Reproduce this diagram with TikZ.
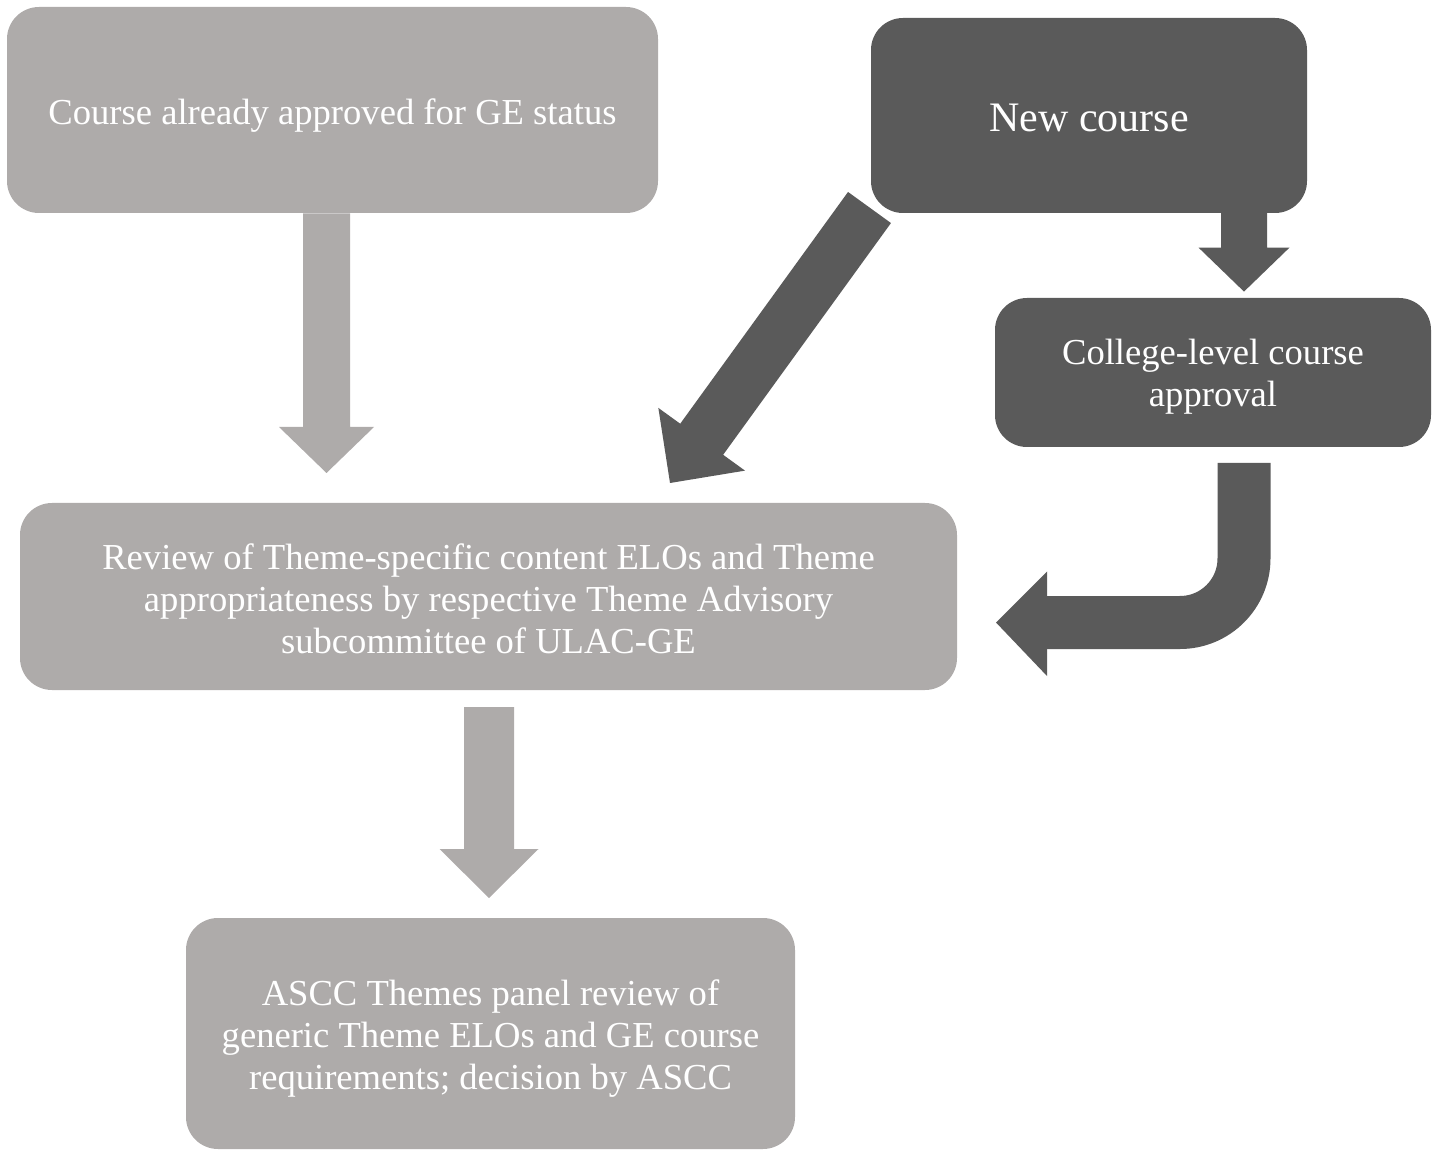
\documentclass[tikz,border=0pt]{standalone}
\usepackage{fontspec}
\setmainfont{Liberation Serif}
\usetikzlibrary{calc}
\definecolor{lightg}{HTML}{AEABAA}
\definecolor{darkg}{HTML}{5A5A5A}
% block arrow: color, start, end, shaft half width, head half width, head length
\newcommand\blockarr[6]{%
  \coordinate (ba-b) at ($(#3)!#6!(#2)$);
  \fill[#1] ($(#2)!#4!90:(#3)$) -- ($(ba-b)!#4!-90:(#2)$) -- ($(ba-b)!#5!-90:(#2)$)
    -- (#3) -- ($(ba-b)!#5!90:(#2)$) -- ($(ba-b)!#4!90:(#2)$) -- ($(#2)!#4!-90:(#3)$) -- cycle;
}
\begin{document}
\begin{tikzpicture}[x=0.5pt,y=-0.5pt,
  box/.style={rounded corners=16pt, inner sep=0pt},
  lbox/.style={box, fill=lightg},
  dbox/.style={box, fill=darkg},
  txt/.style={inner sep=0pt, align=center, text=white,
    font=\fontsize{18.3}{21}\selectfont}]
\useasboundingbox (0,0) rectangle (1437,1150);

\node[lbox, minimum width=325.5pt, minimum height=103pt] (b1) at (332.5,110) {};
\node[txt] (b1t) at ($(b1.center)+(0,6)$) {Course already approved for GE status};

\node[dbox, minimum width=218pt, minimum height=97.5pt] (b2) at (1089,115.5) {};
\node[txt, font=\fontsize{21}{25}\selectfont] (b2t) at ($(b2.center)+(0,2)$) {New course};

\node[dbox, minimum width=218pt, minimum height=74.5pt] (b3) at (1213,372.5) {};
\node[txt] (b3t) at ($(b3.center)+(0,4)$) {College-level course\\approval};

\node[lbox, minimum width=468.5pt, minimum height=93.5pt] (b4) at (488.5,596.5) {};
\node[txt] (b4t) at ($(b4.center)+(0,2)$)
  {Review of Theme-specific content ELOs and Theme\\appropriateness by respective Theme Advisory\\subcommittee of ULAC-GE};

\node[lbox, minimum width=304.5pt, minimum height=115.5pt] (b5) at (490.5,1033.5) {};
\node[txt] (b5t) at ($(b5.center)+(0,5)$)
  {ASCC Themes panel review of\\generic Theme ELOs and GE course\\requirements; decision by ASCC};

% arrow b1 -> b4
\coordinate (a1s) at ($(b1.south)+(-6,0)$);
\coordinate (a1e) at (326.5,473);
\blockarr{lightg}{a1s}{a1e}{11.75pt}{23.75pt}{23pt}

% arrow b2 -> b3
\coordinate (a2s) at (1244,212);
\coordinate (a2e) at ($(b3.north)+(31,-6)$);
\blockarr{darkg}{a2s}{a2e}{11.5pt}{22.75pt}{22pt}

% diagonal arrow b2 -> b4
\coordinate (a3s) at (869.5,207.5);
\coordinate (a3e) at (670,483);
\blockarr{darkg}{a3s}{a3e}{13.25pt}{26.75pt}{27pt}

% curved arrow b3 -> b4
\coordinate (a4s) at (1244,463);
\coordinate (a4e) at (996,622.5);
\draw[darkg, line width=26.5pt, rounded corners=32pt] (a4s) |- ($(a4e)+(49,0)$);
\fill[darkg] ($(a4e)+(51,-51)$) -- (a4e) -- ($(a4e)+(51,53.5)$) -- cycle;

% arrow b4 -> b5
\coordinate (a5s) at (489,707);
\coordinate (a5e) at (489,898);
\blockarr{lightg}{a5s}{a5e}{12.5pt}{24.75pt}{24.5pt}
\end{tikzpicture}
\end{document}
